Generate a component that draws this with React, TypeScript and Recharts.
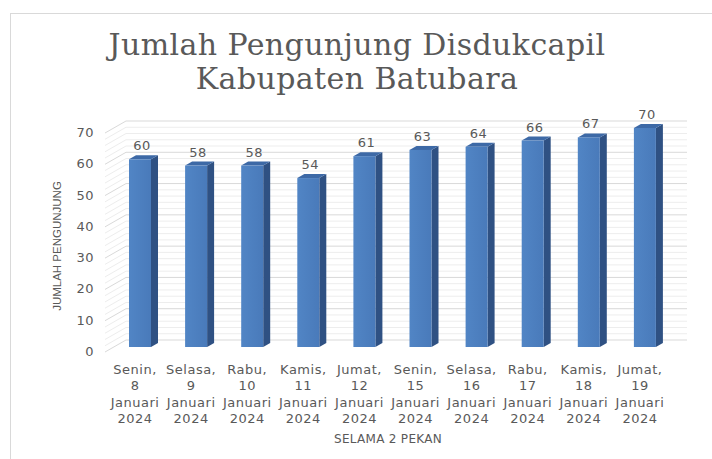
import { BarChart, Bar, XAxis, YAxis, CartesianGrid, LabelList } from 'recharts';

const DAYS = ['Senin', 'Selasa', 'Rabu', 'Kamis', 'Jumat', 'Senin', 'Selasa', 'Rabu', 'Kamis', 'Jumat'];
const DATES = ['8', '9', '10', '11', '12', '15', '16', '17', '18', '19'];
const MONTH = 'Januari';
const YEAR = '2024';
const VISITORS = [60, 58, 58, 54, 61, 63, 64, 66, 67, 70];
// every 2 for the faint minor lines, labels only on the tens
const Y_TICKS = [0, 2, 4, 6, 8, 10, 12, 14, 16, 18, 20, 22, 24, 26, 28, 30, 32, 34, 36, 38, 40, 42, 44, 46, 48, 50, 52, 54, 56, 58, 60, 62, 64, 66, 68, 70];

const TEXT = '#595959';
const FONT = '"DejaVu Sans", Verdana, sans-serif';

const data = DAYS.map((day, i) => ({
  label: `${day}, ${DATES[i]} ${MONTH} ${YEAR}`,
  day,
  date: DATES[i],
  value: VISITORS[i],
}));

const DX = 7;
const DY = 4;

function Bar3D(props: any) {
  const { x, y, width, height } = props;
  if (height <= 0) return null;
  return (
    <g>
      <polygon
        points={`${x + width},${y} ${x + width + DX},${y - DY} ${x + width + DX},${y + height - DY} ${x + width},${y + height}`}
        fill="#2f5183"
      />
      <polygon
        points={`${x},${y} ${x + DX},${y - DY} ${x + width + DX},${y - DY} ${x + width},${y}`}
        fill="#3d69a6"
      />
      <rect x={x} y={y} width={width} height={height} fill="url(#front)" />
    </g>
  );
}

function GridLine(props: any) {
  const { x1, x2, y1, index } = props;
  const major = Y_TICKS[index] % 10 === 0;
  const stroke = major ? '#d9d9d9' : '#ededed';
  const bx = x1 + 14;
  const by = y1 - 7;
  return (
    <g key={`g-${index}`}>
      <line x1={x1 - 7} y1={y1 + 5} x2={bx} y2={by} stroke={stroke} strokeWidth={1} />
      <line x1={bx} y1={by} x2={x2 + 14} y2={by} stroke={stroke} strokeWidth={1} />
    </g>
  );
}

function YTick(props: any) {
  const { y, payload } = props;
  if (payload.value % 10 !== 0) return null;
  return (
    <text x={94} y={y + 9} textAnchor="end" fill={TEXT} fontSize={13} letterSpacing={0.5} fontFamily={FONT}>
      {payload.value}
    </text>
  );
}

function XTick(props: any) {
  const { x, y, index } = props;
  const d = data[index];
  if (!d) return null;
  const lines = [`${d.day},`, d.date, MONTH, YEAR];
  return (
    <text x={x - 5} y={y} textAnchor="middle" fill={TEXT} fontSize={13} letterSpacing={0.5} fontFamily={FONT}>
      {lines.map((t, i) => (
        <tspan key={i} x={x - 5} y={y + 19 + i * 16.4}>
          {t}
        </tspan>
      ))}
    </text>
  );
}

function ValueLabel(props: any) {
  const { x, y, width, value } = props;
  return (
    <text x={x + width / 2 + 2} y={y - 9} textAnchor="middle" fill={TEXT} fontSize={13} letterSpacing={0.5} fontFamily={FONT}>
      {value}
    </text>
  );
}

export default function App() {
  return (
    <div style={{ position: 'absolute', left: 0, top: 0, width: 712, height: 459, background: '#fff', overflow: 'hidden' }}>
      <svg width={712} height={459} style={{ position: 'absolute', left: 0, top: 0 }}>
        <rect x={10.5} y={13.5} width={720} height={460} fill="none" stroke="#d9d9d9" />
        <text x={357} y={55} textAnchor="middle" fill={TEXT} fontSize={30} letterSpacing={0.4} fontFamily='"DejaVu Serif", serif'>
          Jumlah Pengunjung Disdukcapil
        </text>
        <text x={357} y={89} textAnchor="middle" fill={TEXT} fontSize={30} letterSpacing={0.4} fontFamily='"DejaVu Serif", serif'>
          Kabupaten Batubara
        </text>
        <text x={388} y={443} textAnchor="middle" fill={TEXT} fontSize={12} letterSpacing={0.3} fontFamily={FONT}>
          SELAMA 2 PEKAN
        </text>
        <text
          x={57}
          y={246}
          transform="rotate(-90 57 246)"
          textAnchor="middle"
          dominantBaseline="central"
          fill={TEXT}
          fontSize={11.5}
          fontFamily='"Liberation Sans", Arial, sans-serif'
        >
          JUMLAH PENGUNJUNG
        </text>
      </svg>
      <div style={{ position: 'absolute', left: 0, top: 0 }}>
        <BarChart width={712} height={459} data={data} margin={{ top: 128, right: 39, bottom: 12, left: 0 }}>
          <defs>
            <linearGradient id="front" x1="0" y1="0" x2="1" y2="0">
              <stop offset="0%" stopColor="#5185c5" />
              <stop offset="100%" stopColor="#497aba" />
            </linearGradient>
          </defs>
          <CartesianGrid vertical={false} horizontal={(p: any) => <GridLine {...p} />} />
          <XAxis dataKey="label" height={100} axisLine={false} tickLine={false} interval={0} tick={<XTick />} />
          <YAxis
            width={112}
            domain={[0, 70]}
            ticks={Y_TICKS}
            interval={0}
            axisLine={false}
            tickLine={false}
            tick={<YTick />}
          />
          <Bar dataKey="value" barSize={22} shape={<Bar3D />} isAnimationActive={false}>
            <LabelList dataKey="value" content={<ValueLabel />} />
          </Bar>
        </BarChart>
      </div>
    </div>
  );
}
